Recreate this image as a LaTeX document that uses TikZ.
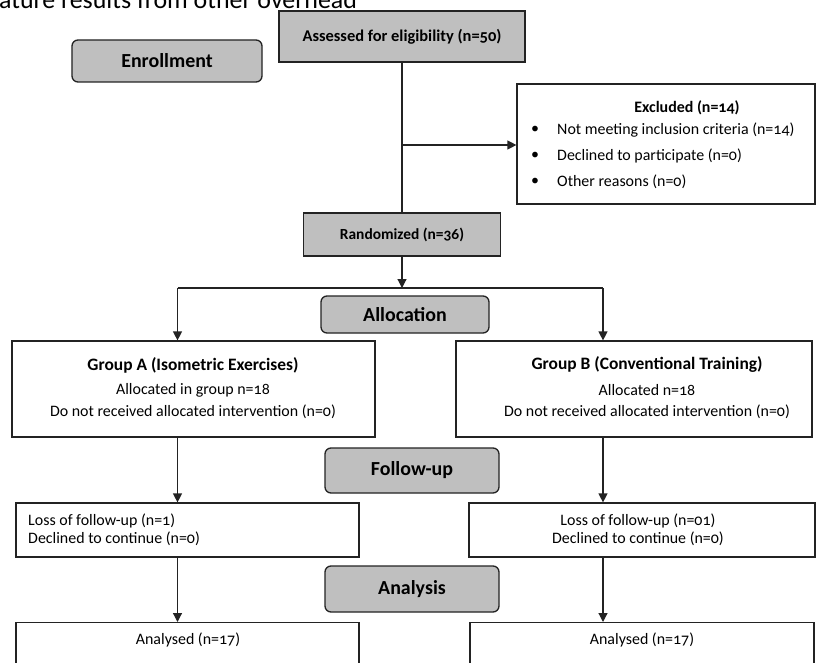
\documentclass[tikz,border=0pt]{standalone}
\usepackage{fontspec}
\setmainfont{Carlito}[Numbers=OldStyle]
\usetikzlibrary{arrows.meta}
\definecolor{boxgray}{RGB}{191,191,191}
\definecolor{linec}{RGB}{35,35,35}
\begin{document}
\begin{tikzpicture}[x=1bp,y=-1bp,
  graybox/.style={draw=linec, fill=boxgray, line width=1.3bp, inner sep=0pt},
  phase/.style={graybox, rounded corners=6bp, font=\bfseries\fontsize{20}{24}\selectfont},
  wbox/.style={draw=linec, fill=white, line width=1.2bp, inner sep=0pt},
  txt/.style={inner sep=0pt, font=\fontsize{16}{19}\selectfont},
  btxt/.style={inner sep=0pt, font=\bfseries\fontsize{16}{19}\selectfont},
  gtxt/.style={inner sep=0pt, font=\bfseries\fontsize{17.5}{21}\selectfont},
  conn/.style={draw=linec, line width=1.2bp},
  arr/.style={conn, -{Triangle[width=9bp,length=9bp]}}]
\useasboundingbox (0,0) rectangle (817,663);
\fill[white] (0,0) rectangle (817,663);

\node[anchor=base west, inner sep=0pt, font=\fontsize{26}{30}\selectfont] (toptext) at (-1,8.5) {ature results from other overhead};

% enrollment
\node[graybox, minimum width=246bp, minimum height=51bp, font=\bfseries\fontsize{16.5}{20}\selectfont] (assess) at (402,36.5) {Assessed for eligibility (n=50)};
\node[phase, minimum width=190bp, minimum height=42bp] (enroll) at (167,61) {Enrollment};

\node[wbox, minimum width=298bp, minimum height=120bp] (excl) at (666,144) {};
\node[btxt] (exclT) at (687,108) {Excluded (n=14)};
\node[txt] (b1) at (535,130) {\textbullet};
\node[txt] (b2) at (535,156) {\textbullet};
\node[txt] (b3) at (535,182) {\textbullet};
\node[txt, anchor=west] (e1) at (557,130) {Not meeting inclusion criteria (n=14)};
\node[txt, anchor=west] (e2) at (557,156) {Declined to participate (n=0)};
\node[txt, anchor=west] (e3) at (557,182) {Other reasons (n=0)};

\node[graybox, minimum width=197bp, minimum height=43bp, font=\bfseries\fontsize{15.5}{19}\selectfont] (rand) at (402,234.5) {Randomized (n=36)};

% allocation
\node[phase, minimum width=168bp, minimum height=37bp] (alloc) at (405,314.5) {Allocation};

\node[wbox, minimum width=363bp, minimum height=96bp] (grpA) at (193.5,389) {};
\node[gtxt] (gAt) at (193,365) {Group A (Isometric Exercises)};
\node[txt] (gA1) at (193,390) {Allocated in group n=18};
\node[txt] (gA2) at (193,412) {Do not received allocated intervention (n=0)};

\node[wbox, minimum width=356bp, minimum height=96bp] (grpB) at (634,389) {};
\node[gtxt] (gBt) at (647,365) {Group B (Conventional Training)};
\node[txt] (gB1) at (647,390) {Allocated n=18};
\node[txt] (gB2) at (647,412) {Do not received allocated intervention (n=0)};

% follow-up
\node[phase, minimum width=174bp, minimum height=45bp] (follow) at (412,470.5) {Follow-up};

\node[wbox, minimum width=343bp, minimum height=54bp] (lossA) at (187.5,530) {};
\node[txt, anchor=west] (lA1) at (28,521) {Loss of follow-up (n=1)};
\node[txt, anchor=west] (lA2) at (28,539) {Declined to continue (n=0)};

\node[wbox, minimum width=346bp, minimum height=54bp] (lossB) at (642,530) {};
\node[txt] (lB1) at (638,521) {Loss of follow-up (n=01)};
\node[txt] (lB2) at (638,539) {Declined to continue (n=0)};

% analysis
\node[phase, minimum width=174bp, minimum height=46bp] (anal) at (412,589) {Analysis};

\node[wbox, minimum width=343bp, minimum height=80bp, anchor=north] (anA) at (187.5,622) {};
\node[txt] (anAt) at (188,640) {Analysed (n=17)};
\node[wbox, minimum width=344bp, minimum height=80bp, anchor=north] (anB) at (642,622) {};
\node[txt] (anBt) at (642,640) {Analysed (n=17)};

% connectors
\coordinate (split) at (402,145);
\coordinate (colA) at (177.5,288);
\coordinate (colB) at (603,288);
\draw[conn] (assess.south) -- (rand.north);
\draw[arr] (split) -- (split -| excl.west);
\draw[arr] (rand.south) -- (rand.south |- colA);
\draw[conn] (colA) -- (colB);
\draw[arr] (colA) -- (colA |- grpA.north);
\draw[arr] (colB) -- (colB |- grpB.north);
\draw[arr] (grpA.south -| colA) -- (lossA.north -| colA);
\draw[arr] (grpB.south -| colB) -- (lossB.north -| colB);
\draw[arr] (lossA.south -| colA) -- (anA.north -| colA);
\draw[arr] (lossB.south -| colB) -- (anB.north -| colB);
\end{tikzpicture}
\end{document}
